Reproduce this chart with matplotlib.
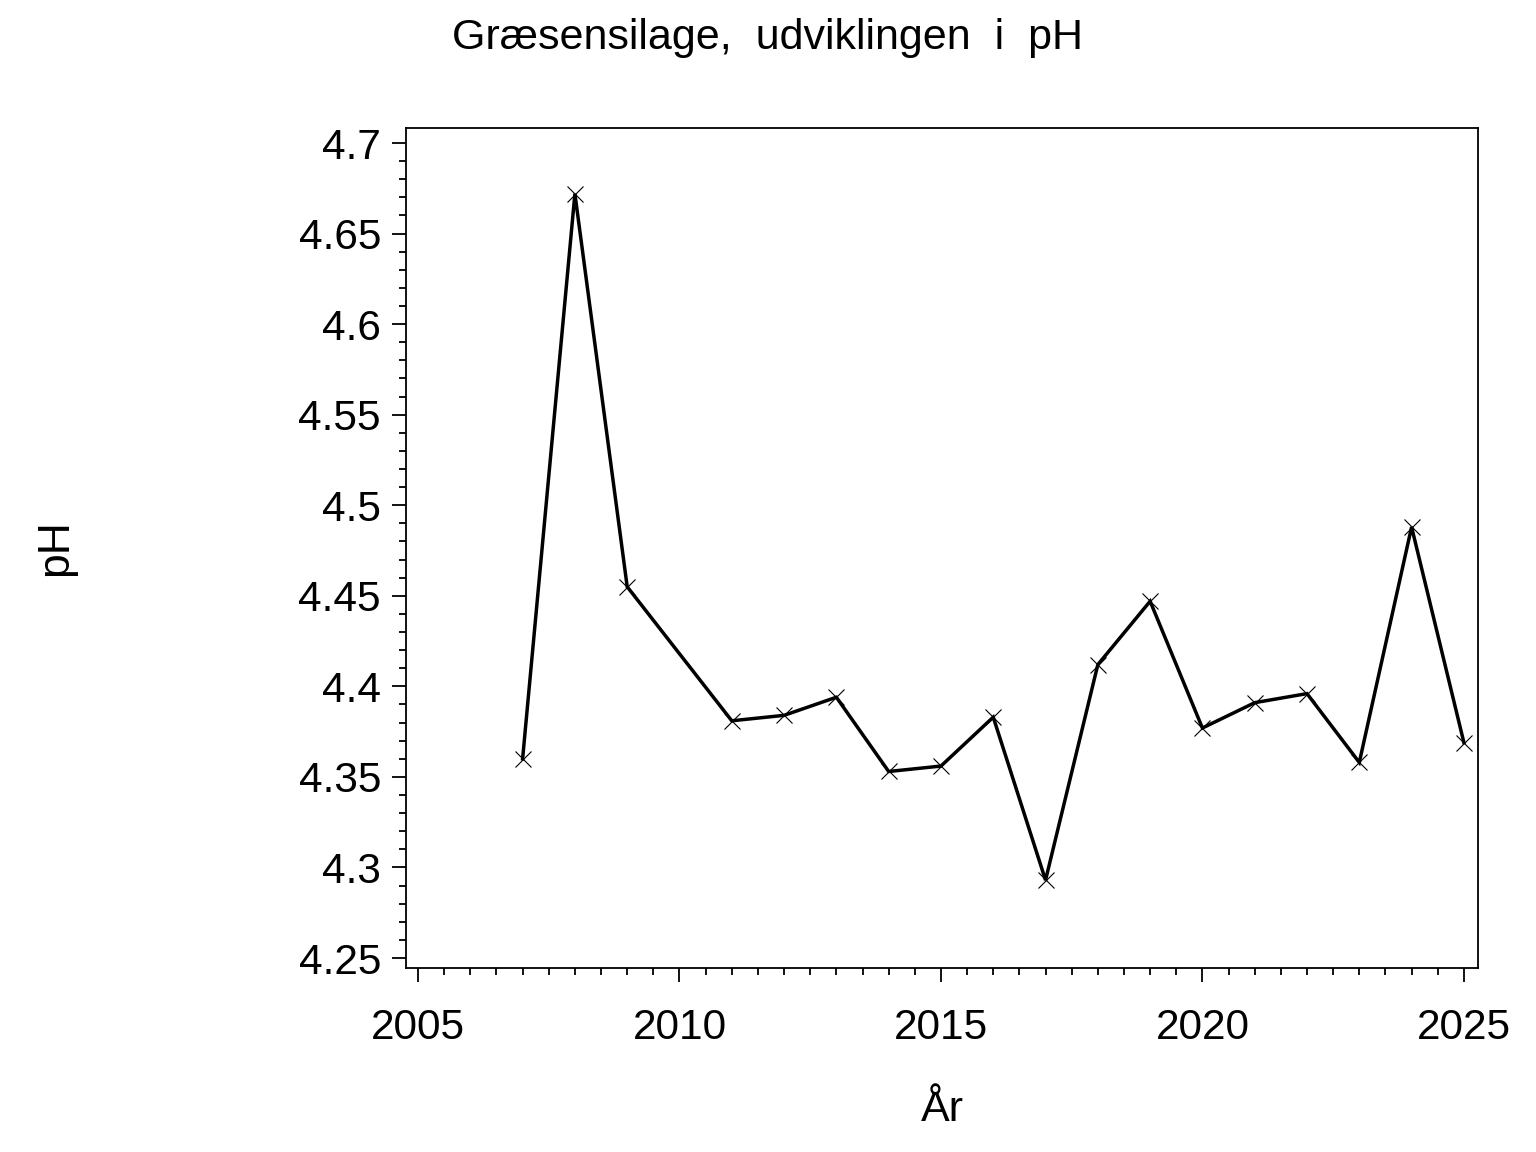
import matplotlib
matplotlib.use("Agg")
import matplotlib.pyplot as plt
from matplotlib.ticker import FixedLocator

# data (no 2010 value)
years = [2007, 2008, 2009, 2011, 2012, 2013, 2014, 2015, 2016,
         2017, 2018, 2019, 2020, 2021, 2022, 2023, 2024, 2025]
ph = [4.360, 4.672, 4.455, 4.381, 4.384, 4.394, 4.353, 4.356, 4.383,
      4.293, 4.412, 4.447, 4.377, 4.391, 4.396, 4.358, 4.488, 4.369]

x_ticks = [2005, 2010, 2015, 2020, 2025]
y_ticks = [4.25, 4.3, 4.35, 4.4, 4.45, 4.5, 4.55, 4.6, 4.65, 4.7]
y_tick_labels = ["4.25", "4.3", "4.35", "4.4", "4.45", "4.5", "4.55", "4.6", "4.65", "4.7"]

title = "Græsensilage,  udviklingen  i  pH"
xlabel = "År"
ylabel = "pH"

plt.rcParams['font.family'] = ['Liberation Sans', 'DejaVu Sans']

fig = plt.figure(figsize=(15.36, 11.52), dpi=100)
ax = fig.add_axes([406 / 1536, 1 - 968 / 1152, (1478 - 406) / 1536, (968 - 128) / 1152])

ax.plot(years, ph, color='black', linewidth=2.5, marker='x', markersize=11.5,
        markeredgewidth=0.8, solid_joinstyle='miter')

ax.set_xlim(2004.77, 2025.27)
ax.set_ylim(4.2445, 4.7083)

ax.xaxis.set_major_locator(FixedLocator(x_ticks))
ax.xaxis.set_minor_locator(FixedLocator([2005 + 0.5 * i for i in range(41) if i % 10 != 0]))
ax.yaxis.set_major_locator(FixedLocator(y_ticks))
ax.set_yticklabels(y_tick_labels)
ax.yaxis.set_minor_locator(FixedLocator([round(4.25 + 0.01 * i, 2) for i in range(46) if i % 5 != 0]))

ax.tick_params(axis='both', which='major', direction='out', length=10, width=1.3, color='black')
ax.tick_params(axis='both', which='minor', direction='out', length=5, width=1.3, color='black')
ax.tick_params(axis='x', which='major', pad=19, labelsize=30.5)
ax.tick_params(axis='y', which='major', pad=8, labelsize=30.5)
ax.tick_params(top=False, right=False, which='both')

for s in ax.spines.values():
    s.set_linewidth(1.3)
    s.set_color('black')

fig.text(768 / 1536, 1 - 38 / 1152, title, ha='center', va='center', fontsize=31)
fig.text(942 / 1536, 1 - 1110 / 1152, xlabel, ha='center', va='center', fontsize=31)
fig.text(56 / 1536, 1 - 548 / 1152, ylabel, ha='center', va='center', fontsize=32, rotation=90)

fig.savefig("out.png", dpi=100)
